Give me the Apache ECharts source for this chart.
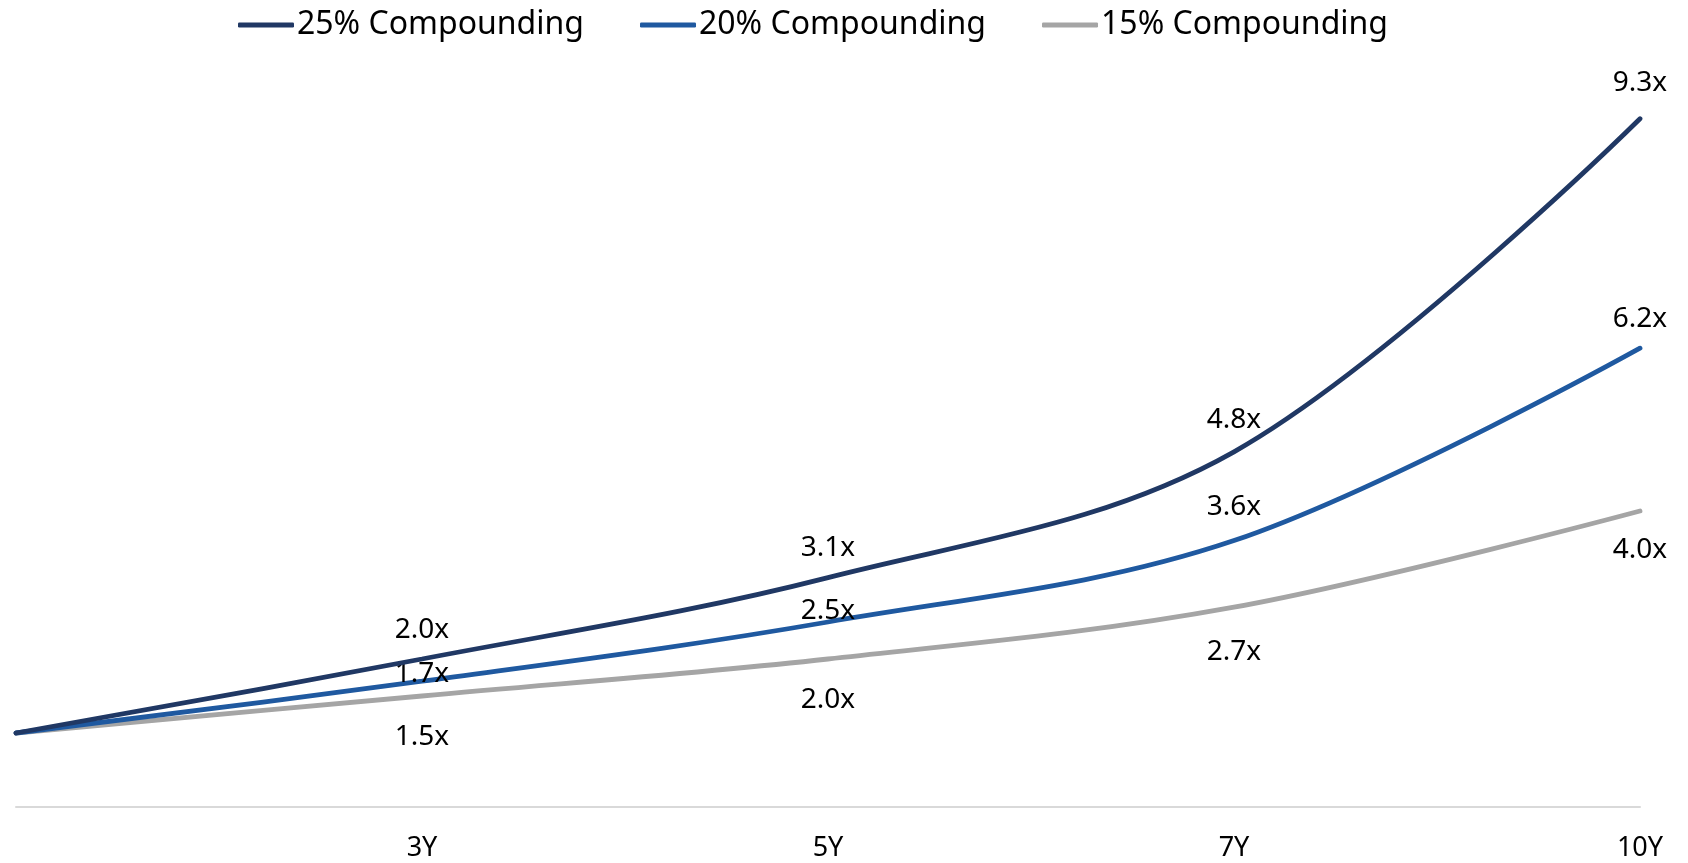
<!DOCTYPE html>
<html>
<head>
<meta charset="utf-8">
<script src="https://cdn.jsdelivr.net/npm/echarts@6/dist/echarts.min.js"></script>
<style>
  html, body { margin: 0; padding: 0; background: #ffffff; }
  #chart { width: 1688px; height: 863px; }
</style>
</head>
<body>
<div id="chart"></div>
<script>
// Horizon categories (first point is the 1.0x starting value)
const categories = ['', '3Y', '5Y', '7Y', '10Y'];

// Growth multiples for each compounding rate
const seriesNames = ['25% Compounding', '20% Compounding', '15% Compounding'];
const rate25 = [1.0, 2.0, 3.1, 4.8, 9.3];
const rate20 = [1.0, 1.7, 2.5, 3.6, 6.2];
const rate15 = [1.0, 1.5, 2.0, 2.7, 4.0];

const colors = ['#203864', '#1F59A0', '#A5A5A5'];
const FONT = '"Noto Sans", sans-serif';

// Label placement per series (above for the faster rates, below for 15%)
const labelPlacement = [
  { position: 'top', distance: [16, 15, 16, 18, 22] },
  { position: 'top', distance: [0, -7, -3, 20, 15] },
  { position: 'bottom', distance: [0, 27, 27, 31, 25] }
];

function buildSeries(name, values, idx) {
  const place = labelPlacement[idx];
  return {
    name: name,
    type: 'line',
    smooth: 0.35,
    symbol: 'circle',
    symbolSize: 0,
    showSymbol: true,
    lineStyle: { width: 4.8, color: colors[idx], cap: 'round' },
    itemStyle: { color: colors[idx] },
    z: 3 - idx,
    data: values.map(function (v, i) {
      return {
        value: v,
        label: {
          show: i > 0,
          position: place.position,
          distance: place.distance[i]
        }
      };
    }),
    label: {
      show: true,
      color: '#000000',
      fontFamily: FONT,
      fontSize: 28,
      formatter: function (p) { return Number(p.value).toFixed(1) + 'x'; }
    }
  };
}

const chart = echarts.init(document.getElementById('chart'), null, { renderer: 'canvas' });

chart.setOption({
  animation: false,
  backgroundColor: '#ffffff',
  color: colors,
  legend: {
    top: 4,
    left: 233,
    itemWidth: 56,
    itemHeight: 5,
    itemGap: 56,
    icon: 'roundRect',
    textStyle: { fontFamily: FONT, fontSize: 32, color: '#000000', padding: [0, 0, 0, -2] },
    data: seriesNames
  },
  grid: { left: 16, right: 48, top: 67, bottom: 56, containLabel: false },
  xAxis: {
    type: 'category',
    data: categories,
    boundaryGap: false,
    axisLine: { show: true, lineStyle: { color: '#D9D9D9', width: 2 } },
    axisTick: { show: false },
    axisLabel: {
      show: true,
      color: '#000000',
      fontFamily: FONT,
      fontSize: 27,
      margin: 28,
      interval: 0
    },
    splitLine: { show: false }
  },
  yAxis: {
    type: 'value',
    min: 0,
    max: 10,
    show: false,
    splitLine: { show: false }
  },
  series: [
    buildSeries(seriesNames[0], rate25, 0),
    buildSeries(seriesNames[1], rate20, 1),
    buildSeries(seriesNames[2], rate15, 2)
  ]
});
</script>
</body>
</html>
